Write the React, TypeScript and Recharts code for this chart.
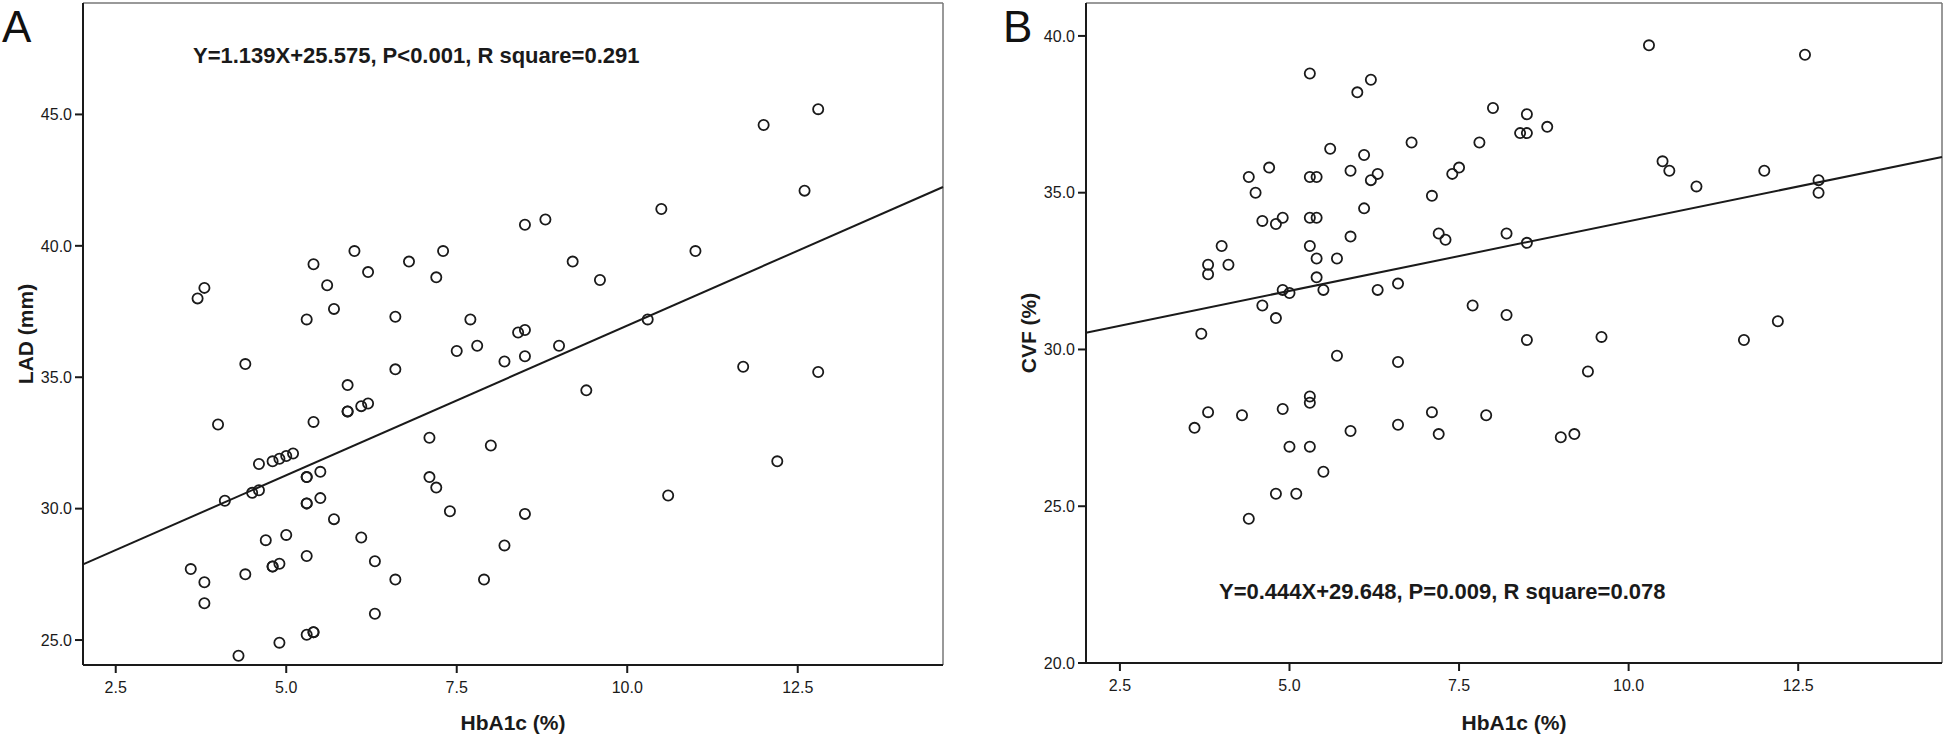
import { ScatterChart, Scatter, XAxis, YAxis, ReferenceLine, Label } from 'recharts'

// panel A: HbA1c vs LAD
const hba1cA = [
  3.7, 3.8, 4.4, 5.3, 5.4, 5.6, 5.7, 6.0, 6.2, 6.6, 6.6, 6.8, 7.2, 7.3, 7.7, 7.5, 7.8,
  8.2, 8.5, 8.4, 8.5, 9.0, 8.5, 8.8, 9.2, 9.6, 10.3, 10.5, 11.0, 12.0, 12.8, 12.6, 11.7,
  12.8, 9.4, 8.0, 12.2, 10.6, 7.4, 8.5, 8.2, 7.9, 5.9, 6.1, 6.2, 5.9, 5.9, 4.0, 5.4, 7.1,
  4.6, 4.8, 4.9, 5.0, 5.1, 5.3, 5.3, 5.5, 7.1, 7.2, 4.5, 4.6, 4.1, 5.3, 5.3, 5.5, 5.7,
  5.0, 4.7, 6.1, 5.3, 6.3, 4.8, 4.8, 4.9, 3.6, 4.4, 3.8, 6.6, 3.8, 6.3, 5.3, 5.4, 5.4,
  4.9, 4.3,
]
const lad = [
  38.0, 38.4, 35.5, 37.2, 39.3, 38.5, 37.6, 39.8, 39.0, 37.3, 35.3, 39.4, 38.8, 39.8, 37.2, 36.0, 36.2,
  35.6, 35.8, 36.7, 36.8, 36.2, 40.8, 41.0, 39.4, 38.7, 37.2, 41.4, 39.8, 44.6, 45.2, 42.1, 35.4,
  35.2, 34.5, 32.4, 31.8, 30.5, 29.9, 29.8, 28.6, 27.3, 34.7, 33.9, 34.0, 33.7, 33.7, 33.2, 33.3, 32.7,
  31.7, 31.8, 31.9, 32.0, 32.1, 31.2, 31.2, 31.4, 31.2, 30.8, 30.6, 30.7, 30.3, 30.2, 30.2, 30.4, 29.6,
  29.0, 28.8, 28.9, 28.2, 28.0, 27.8, 27.8, 27.9, 27.7, 27.5, 27.2, 27.3, 26.4, 26.0, 25.2, 25.3, 25.3,
  24.9, 24.4,
]

// panel B: HbA1c vs CVF
const hba1cB = [
  5.3, 6.2, 6.0, 5.6, 6.8, 6.1, 4.7, 4.4, 5.3, 5.4, 5.9, 6.2, 6.3, 7.5, 7.4, 4.5, 7.1, 6.1,
  4.6, 4.8, 4.9, 5.3, 5.4, 5.9, 7.2, 7.3, 4.0, 5.3, 3.8, 4.1, 3.8, 5.4, 5.7, 5.4, 6.6, 4.9,
  5.0, 5.5, 6.3, 4.6, 4.8, 7.7, 3.7, 5.7, 6.6, 10.3, 12.6, 8.0, 8.5, 8.8, 8.4, 8.5, 7.8, 10.5,
  10.6, 11.0, 12.0, 12.8, 12.8, 8.2, 8.5, 8.2, 8.5, 9.6, 11.7, 12.2, 9.4, 7.9, 9.0, 9.2, 5.3,
  5.3, 3.8, 3.6, 4.3, 4.9, 7.1, 6.6, 5.9, 7.2, 5.0, 5.3, 5.5, 4.8, 5.1, 4.4,
]
const cvf = [
  38.8, 38.6, 38.2, 36.4, 36.6, 36.2, 35.8, 35.5, 35.5, 35.5, 35.7, 35.4, 35.6, 35.8, 35.6, 35.0, 34.9, 34.5,
  34.1, 34.0, 34.2, 34.2, 34.2, 33.6, 33.7, 33.5, 33.3, 33.3, 32.7, 32.7, 32.4, 32.9, 32.9, 32.3, 32.1, 31.9,
  31.8, 31.9, 31.9, 31.4, 31.0, 31.4, 30.5, 29.8, 29.6, 39.7, 39.4, 37.7, 37.5, 37.1, 36.9, 36.9, 36.6, 36.0,
  35.7, 35.2, 35.7, 35.4, 35.0, 33.7, 33.4, 31.1, 30.3, 30.4, 30.3, 30.9, 29.3, 27.9, 27.2, 27.3, 28.5,
  28.3, 28.0, 27.5, 27.9, 28.1, 28.0, 27.6, 27.4, 27.3, 26.9, 26.9, 26.1, 25.4, 25.4, 24.6,
]

const xTicks = [2.5, 5, 7.5, 10, 12.5]
const ladTicks = [25, 30, 35, 40, 45]
const cvfTicks = [20, 25, 30, 35, 40]

const fitA = { slope: 1.139, intercept: 25.575 }
const fitB = { slope: 0.444, intercept: 29.648 }

const FONT = '"Liberation Sans", Arial, sans-serif'
const INK = '#1a1a1a'

function Ring(props: any) {
  return <circle cx={props.cx} cy={props.cy} r={5.1} fill="none" stroke={INK} strokeWidth={1.8} />
}

function Panel({ left, width, plotW, xAxisH, xs, ys, xDomain, yDomain, yTicks, yLabel, yLabelX, yAxisW, fit, letter, letterX, eq, eqX, eqY }: {
  left: number; width: number; plotW: number; xAxisH: number; xs: number[]; ys: number[]
  xDomain: [number, number]; yDomain: [number, number]; yTicks: number[]
  yLabel: string; yLabelX: number; yAxisW: number
  fit: { slope: number; intercept: number }
  letter: string; letterX: number; eq: string; eqX: number; eqY: number
}) {
  const data = xs.map((x, i) => ({ x, y: ys[i] }))
  const [x0, x1] = xDomain
  const tick = { fill: INK, fontSize: 16, fontFamily: FONT }
  const axisLine = { stroke: INK, strokeWidth: 2 }
  return (
    <div style={{ position: 'absolute', left, top: 0 }}>
      <ScatterChart width={width} height={737} margin={{ top: 3, right: width - yAxisW - plotW, bottom: 0, left: 0 }}>
        <XAxis type="number" dataKey="x" domain={xDomain} allowDataOverflow ticks={xTicks}
          tickFormatter={v => v.toFixed(1)} tick={tick} tickSize={8} tickMargin={9}
          axisLine={axisLine} tickLine={axisLine} height={xAxisH}>
          <Label value="HbA1c (%)" position="insideBottom" offset={7}
            style={{ fontSize: 21, fontWeight: 'bold', fontFamily: FONT, fill: INK }} />
        </XAxis>
        <YAxis type="number" dataKey="y" domain={yDomain} allowDataOverflow ticks={yTicks}
          tickFormatter={v => v.toFixed(1)} tick={tick} tickSize={8} tickMargin={3}
          axisLine={axisLine} tickLine={axisLine} width={yAxisW}>
          <Label value={yLabel} angle={-90} position="insideLeft" offset={yLabelX}
            style={{ textAnchor: 'middle', fontSize: 21, fontWeight: 'bold', fontFamily: FONT, fill: INK }} />
        </YAxis>
        <ReferenceLine y={yDomain[1]} stroke="#777" strokeWidth={1.5} />
        <ReferenceLine x={xDomain[1]} stroke="#777" strokeWidth={1.5} />
        <ReferenceLine
          segment={[{ x: x0, y: fit.slope * x0 + fit.intercept }, { x: x1, y: fit.slope * x1 + fit.intercept }]}
          stroke={INK} strokeWidth={2} ifOverflow="visible" />
        <Scatter data={data} shape={Ring} isAnimationActive={false} />
        <text x={letterX} y={42} fontSize={44} fontFamily={FONT} fill="#111">{letter}</text>
        <text x={eqX} y={eqY} fontSize={22} fontWeight="bold" fontFamily={FONT} fill={INK}>{eq}</text>
      </ScatterChart>
    </div>
  )
}

export default function App() {
  return (
    <div style={{ position: 'absolute', left: 0, top: 0, width: 1946, height: 737, background: '#fff' }}>
      <Panel left={0} width={960} plotW={860} xAxisH={72} xs={hba1cA} ys={lad} xDomain={[2.02, 14.63]} yDomain={[24.05, 49.24]}
        yTicks={ladTicks} yLabel="LAD (mm)" yLabelX={26} yAxisW={83} fit={fitA}
        letter="A" letterX={2} eq="Y=1.139X+25.575, P<0.001, R square=0.291" eqX={193} eqY={63} />
      <Panel left={970} width={976} plotW={856} xAxisH={74} xs={hba1cB} ys={cvf} xDomain={[2.0, 14.62]} yDomain={[20, 41.05]}
        yTicks={cvfTicks} yLabel="CVF (%)" yLabelX={59} yAxisW={116} fit={fitB}
        letter="B" letterX={33} eq="Y=0.444X+29.648, P=0.009, R square=0.078" eqX={249} eqY={599} />
    </div>
  )
}
